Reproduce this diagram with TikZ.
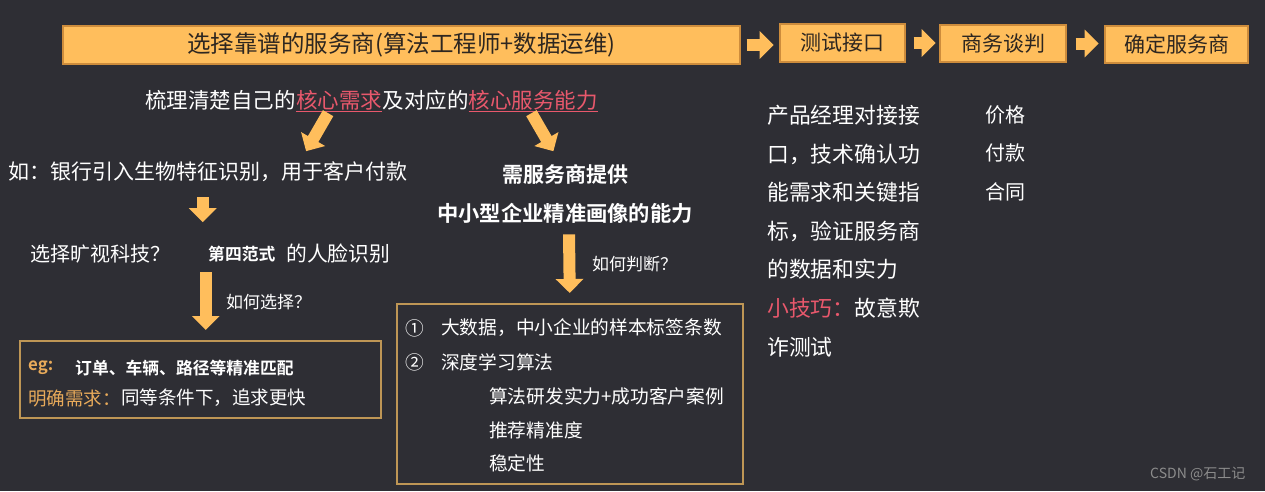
\documentclass[tikz,border=0pt]{standalone}
\usepackage{fontspec}
\setmainfont{Noto Sans CJK SC}[BoldFont={Noto Sans CJK SC Bold}]
\usetikzlibrary{arrows.meta,calc,positioning}

\definecolor{bgdark}{RGB}{46,46,52}
\definecolor{boxorange}{RGB}{255,190,92}
\definecolor{boxedge}{RGB}{205,140,60}
\definecolor{frameedge}{RGB}{190,150,85}
\definecolor{pinktext}{RGB}{232,88,108}
\definecolor{eggold}{RGB}{232,170,90}
\definecolor{darktext}{RGB}{45,38,32}

\tikzstyle{block} = [rectangle, draw=boxedge, line width=1.2pt, fill=boxorange,
    text=darktext, inner sep=0pt, font=\fontsize{21}{25}\selectfont]
\tikzstyle{frame} = [rectangle, draw=frameedge, line width=1.5pt, inner sep=0pt]
\tikzstyle{txt} = [text=white, inner sep=0pt, anchor=west, font=\fontsize{21}{25}\selectfont]
\tikzstyle{small} = [txt, font=\fontsize{17}{20}\selectfont]
\tikzstyle{fat} = [draw=boxorange, line width=12pt, -{Triangle[length=14pt,width=27pt]}]
\tikzstyle{pinkline} = [draw=pinktext, line width=1.2pt]

\begin{document}
\begin{tikzpicture}[x=1pt, y=-1pt]
	\fill[bgdark] (0,0) rectangle (1265,491);
	\useasboundingbox (0,0) rectangle (1265,491);

	% Nodes
	\node [block, minimum width=677pt, minimum height=38pt, font=\fontsize{23.5}{26}\selectfont] (select) at (401.5,45) {选择靠谱的服务商(算法工程师+数据运维)};
	\node [block, minimum width=125pt, minimum height=38pt] (test) at (842.5,43) {测试接口};
	\node [block, minimum width=126pt, minimum height=37pt] (nego) at (1003,43.5) {商务谈判};
	\node [block, minimum width=143pt, minimum height=37pt] (final) at (1176.5,44.5) {确定服务商};

	\node [txt, font=\fontsize{21.5}{25}\selectfont] (sortout) at (145,100) {梳理清楚自己的};
	\node [txt, font=\fontsize{21.5}{25}\selectfont, text=pinktext, right=0pt of sortout] (coreneed) {核心需求};
	\node [txt, font=\fontsize{21.5}{25}\selectfont, right=0pt of coreneed] (match) {及对应的};
	\node [txt, font=\fontsize{21.5}{25}\selectfont, text=pinktext, right=0pt of match] (coreserv) {核心服务能力};

	\node [txt] (bank) at (8,172) {如：银行引入生物特征识别，用于客户付款};
	\node [txt, font=\fontsize{20}{24}\selectfont] (pick) at (30,254) {选择旷视科技？};
	\node [txt, font=\bfseries\fontsize{16.8}{20}\selectfont] (fourth) at (208,254) {第四范式};
	\node [txt, font=\fontsize{20.8}{24}\selectfont] (face) at (286,254) {的人脸识别};
	\node [small] (howpick) at (226,302) {如何选择？};

	\node [frame, minimum width=361pt, minimum height=77pt, anchor=north west] (choose) at (19,340) {};
	\node [txt, text=eggold, font=\bfseries\fontsize{16.8}{20}\selectfont] (eg) at (28,368) {eg:};
	\node [txt, font=\bfseries\fontsize{16.8}{20}\selectfont] (egtext) at (75,368) {订单、车辆、路径等精准匹配};
	\node [txt, text=eggold, font=\fontsize{18.5}{22}\selectfont] (clear) at (28,398) {明确需求：};
	\node [txt, font=\fontsize{18.5}{22}\selectfont, right=0pt of clear] (faster) {同等条件下，追求更快};

	\node [txt, anchor=center, font=\bfseries\fontsize{21}{25}\selectfont] (provide) at (565,174) {需服务商提供};
	\node [txt, anchor=center, font=\bfseries\fontsize{21.3}{25}\selectfont] (portrait) at (565,213) {中小型企业精准画像的能力};
	\node [small] (howjudge) at (592,264) {如何判断？};

	\node [frame, minimum width=346pt, minimum height=180pt, anchor=north west] (judge) at (396,303) {};
	\node [txt, font=\fontsize{18.7}{22}\selectfont] (one) at (405,328) {①};
	\node [txt, font=\fontsize{18.7}{22}\selectfont] (bigdata) at (441,328) {大数据，中小企业的样本标签条数};
	\node [txt, font=\fontsize{18.7}{22}\selectfont] (two) at (405,362) {②};
	\node [txt, font=\fontsize{18.7}{22}\selectfont] (deep) at (441,362) {深度学习算法};
	\node [txt, font=\fontsize{18.7}{22}\selectfont] (algo) at (489,396) {算法研发实力+成功客户案例};
	\node [txt, font=\fontsize{18.7}{22}\selectfont] (accuracy) at (489,430) {推荐精准度};
	\node [txt, font=\fontsize{18.7}{22}\selectfont] (stable) at (489,463) {稳定性};

	\node [txt, anchor=north west, align=left, font=\fontsize{21.8}{38.6}\selectfont] (testnote) at (767,105)
		{产品经理对接接\\口，技术确认功\\能需求和关键指\\标，验证服务商\\的数据和实力\\{\color{pinktext}小技巧：}故意欺\\诈测试};
	\node [txt, anchor=north west, align=left, font=\fontsize{20}{38.6}\selectfont] (negonote) at (985,105)
		{价格\\付款\\合同};

	\node [txt, text=black!45, font=\fontsize{14}{16}\selectfont] (mark) at (1150,474) {CSDN @石工记};

	% Underlines
	\path [pinkline] ($(coreneed.south west)+(0,1)$) -- ($(coreneed.south east)+(0,1)$);
	\path [pinkline] ($(coreserv.south west)+(0,1)$) -- ($(coreserv.south east)+(0,1)$);

	% Arrows
	\path [fat] ($(select.east)+(6,0)$) -- ($(select.east)+(33,0)$);
	\path [fat] ($(test.east)+(8,0)$) -- ($(test.east)+(30,0)$);
	\path [fat] ($(nego.east)+(9,0)$) -- ($(nego.east)+(32,0)$);
	\path [fat] ($(coreneed.south)+(-11,3)$) -- ($(coreneed.south)+(-33,41)$);
	\path [fat] ($(coreserv.south)+(-2,3)$) -- ($(coreserv.south)+(20,41)$);
	\path [fat] ($(bank.south)+(-5,15)$) -- ($(bank.south)+(-5,40)$);
	\path [fat] ($(choose.north)+(5.5,-68)$) -- ($(choose.north)+(5.5,-10)$);
	\path [fat] ($(portrait.south)+(4,11)$) -- ($(judge.north)+(0,-10)$);

\end{tikzpicture}
\end{document}
